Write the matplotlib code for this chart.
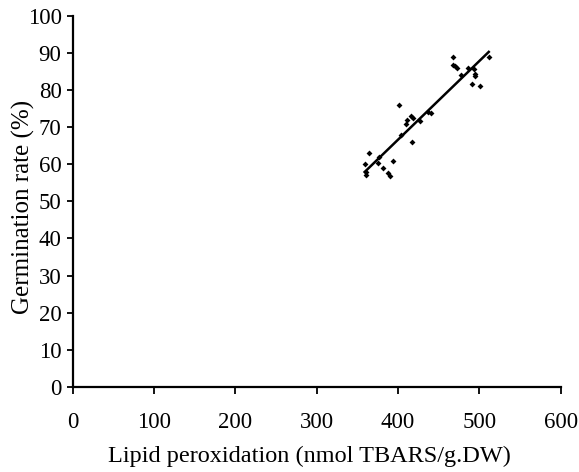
import matplotlib
matplotlib.use("Agg")
import matplotlib.pyplot as plt
import numpy as np

lipid = [359, 360.5, 361, 364, 377, 375.5, 381, 388, 390.5, 394, 401, 404, 410, 411.5,
         416.5, 417.5, 419, 427, 437, 440.6, 468, 468, 470, 472.5, 478, 486, 493, 494.4,
         495, 490.7, 500.7, 511.6]
germ = [60, 57.1, 58, 63, 62, 60.4, 59, 57.7, 56.8, 61, 76, 68, 71, 72,
        73, 66, 72.4, 71.7, 74, 73.8, 89, 86.8, 86.5, 85.9, 84, 86, 85.6, 84.5,
        83.8, 81.8, 81, 89]

plt.rcParams['font.family'] = ['Liberation Serif', 'DejaVu Serif']

fig = plt.figure(figsize=(5.79, 4.72), dpi=100)
ax = fig.add_axes([0.1256, 0.1807, 0.8427, 0.7853])

x = np.array(lipid)
y = np.array(germ)
ax.scatter(x, y, marker='D', s=9, color='black', zorder=3, linewidths=0)
m, b = np.polyfit(x, y, 1)
xs = np.array([x.min(), x.max()])
ax.plot(xs, m * xs + b, color='black', lw=1.8)

ax.set_xlim(0, 600)
ax.set_ylim(0, 100)
ax.set_xticks(range(0, 601, 100))
ax.set_yticks(range(0, 101, 10))
for s in ['top', 'right']:
    ax.spines[s].set_visible(False)
for s in ['left', 'bottom']:
    ax.spines[s].set_linewidth(1.6)
ax.tick_params(axis='x', direction='out', length=5, width=1.3, labelsize=16.5, pad=13)
ax.tick_params(axis='y', direction='out', length=4, width=1.3, labelsize=16.5, pad=4)
ax.set_xlabel('Lipid peroxidation (nmol TBARS/g.DW)', fontsize=17.5)
ax.xaxis.set_label_coords(0.485, -0.16)
ax.set_ylabel('Germination rate (%)', fontsize=18)
ax.yaxis.set_label_coords(-0.077, 0.485)

fig.savefig('out.png', dpi=100)
